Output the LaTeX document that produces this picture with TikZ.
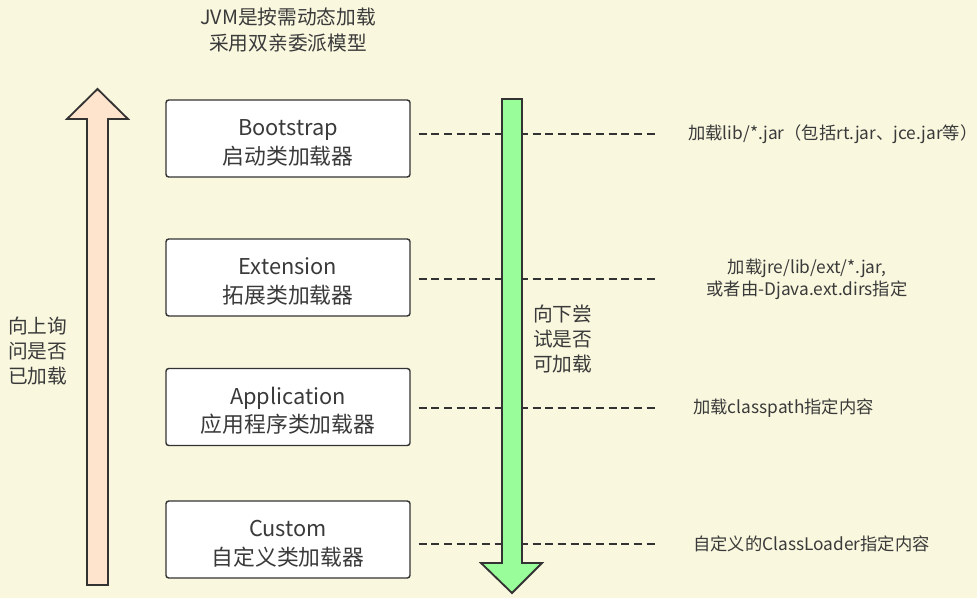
\documentclass[tikz,border=0pt]{standalone}
\usepackage{fontspec}
\setmainfont{Noto Sans CJK SC}
\usepackage{tikz}
\usetikzlibrary{positioning}
\definecolor{bgcolor}{RGB}{249,247,222}
\definecolor{linecolor}{RGB}{51,51,51}
\definecolor{textcolor}{RGB}{58,58,58}
\definecolor{upcolor}{RGB}{255,228,205}
\definecolor{downcolor}{RGB}{153,253,153}
% two lines, first baseline a little above the box centre
\newcommand{\LoaderText}[2]{\raisebox{2.1pt}[0pt][0pt]{\begin{tabular}[t]{@{}c@{}}#1\\#2\end{tabular}}}

\begin{document}
\begin{tikzpicture}[x=0.025cm,y=-0.025cm]
  \tikzstyle{BoxStyle}=[draw=linecolor,line width=1pt,fill=white,rounded corners=2pt,
                        minimum width=6.1cm,minimum height=1.925cm,
                        text=textcolor,font=\fontsize{15.5}{20.3}\selectfont]
  \tikzstyle{NoteStyle}=[inner sep=0pt,text=textcolor,font=\fontsize{12.3}{15.6}\selectfont]
  \tikzstyle{SideStyle}=[inner sep=0pt,align=left,text=textcolor,font=\fontsize{14}{17.8}\selectfont]
  \tikzstyle{DashStyle}=[draw=linecolor,line width=1.2pt,dash pattern=on 5.7pt off 3.3pt,
                         shorten <=0.2cm]
  \tikzstyle{ArrowStyle}=[draw=linecolor,line width=1.3pt,line join=miter]
  \fill[bgcolor] (0,0) rectangle (977,598);
  \useasboundingbox (0,0) rectangle (977,598);
  % title
  \node[inner sep=0pt,align=center,text=textcolor,font=\fontsize{14}{18.4}\selectfont]
    (title) at (288,30) {JVM是按需动态加载\\采用双亲委派模型};
  % loaders
  \node[BoxStyle] (boot) at (288,138.5) {\LoaderText{Bootstrap}{启动类加载器}};
  \node[BoxStyle] (ext) at (288,277.5) {\LoaderText{Extension}{拓展类加载器}};
  \node[BoxStyle] (app) at (288,407) {\LoaderText{Application}{应用程序类加载器}};
  \node[BoxStyle] (cust) at (288,539.5) {\LoaderText{Custom}{自定义类加载器}};
  % what each one loads
  \node[NoteStyle,anchor=west] (bootnote) at (688,134) {加载lib/*.jar（包括rt.jar、jce.jar等）};
  \node[NoteStyle,align=center] (extnote) at (807,279) {加载jre/lib/ext/*.jar,\\或者由-Djava.ext.dirs指定};
  \node[NoteStyle,anchor=west] (appnote) at (693,408) {加载classpath指定内容};
  \node[NoteStyle,anchor=west] (custnote) at (693,544) {自定义的ClassLoader指定内容};
  \coordinate (dashend) at (656,0);
  \draw[DashStyle] (boot.east |- bootnote.west) -- (dashend |- bootnote.west);
  \draw[DashStyle] (ext.east |- extnote.west) -- (dashend |- extnote.west);
  \draw[DashStyle] (app.east |- appnote.west) -- (dashend |- appnote.west);
  \draw[DashStyle] (cust.east |- custnote.west) -- (dashend |- custnote.west);
  % up and down
  \filldraw[ArrowStyle,fill=upcolor] (87,585) -- (87,119) -- (67,119) -- (97.5,89)
    -- (128,119) -- (108,119) -- (108,585) -- cycle;
  \filldraw[ArrowStyle,fill=downcolor] (502,99) -- (522,99) -- (522,563) -- (542,563)
    -- (512,593) -- (481,563) -- (502,563) -- cycle;
  \node[SideStyle,anchor=west] (uptext) at (8,351) {向上询\\问是否\\已加载};
  \node[SideStyle,anchor=west] (downtext) at (533,339) {向下尝\\试是否\\可加载};
\end{tikzpicture}
\end{document}
